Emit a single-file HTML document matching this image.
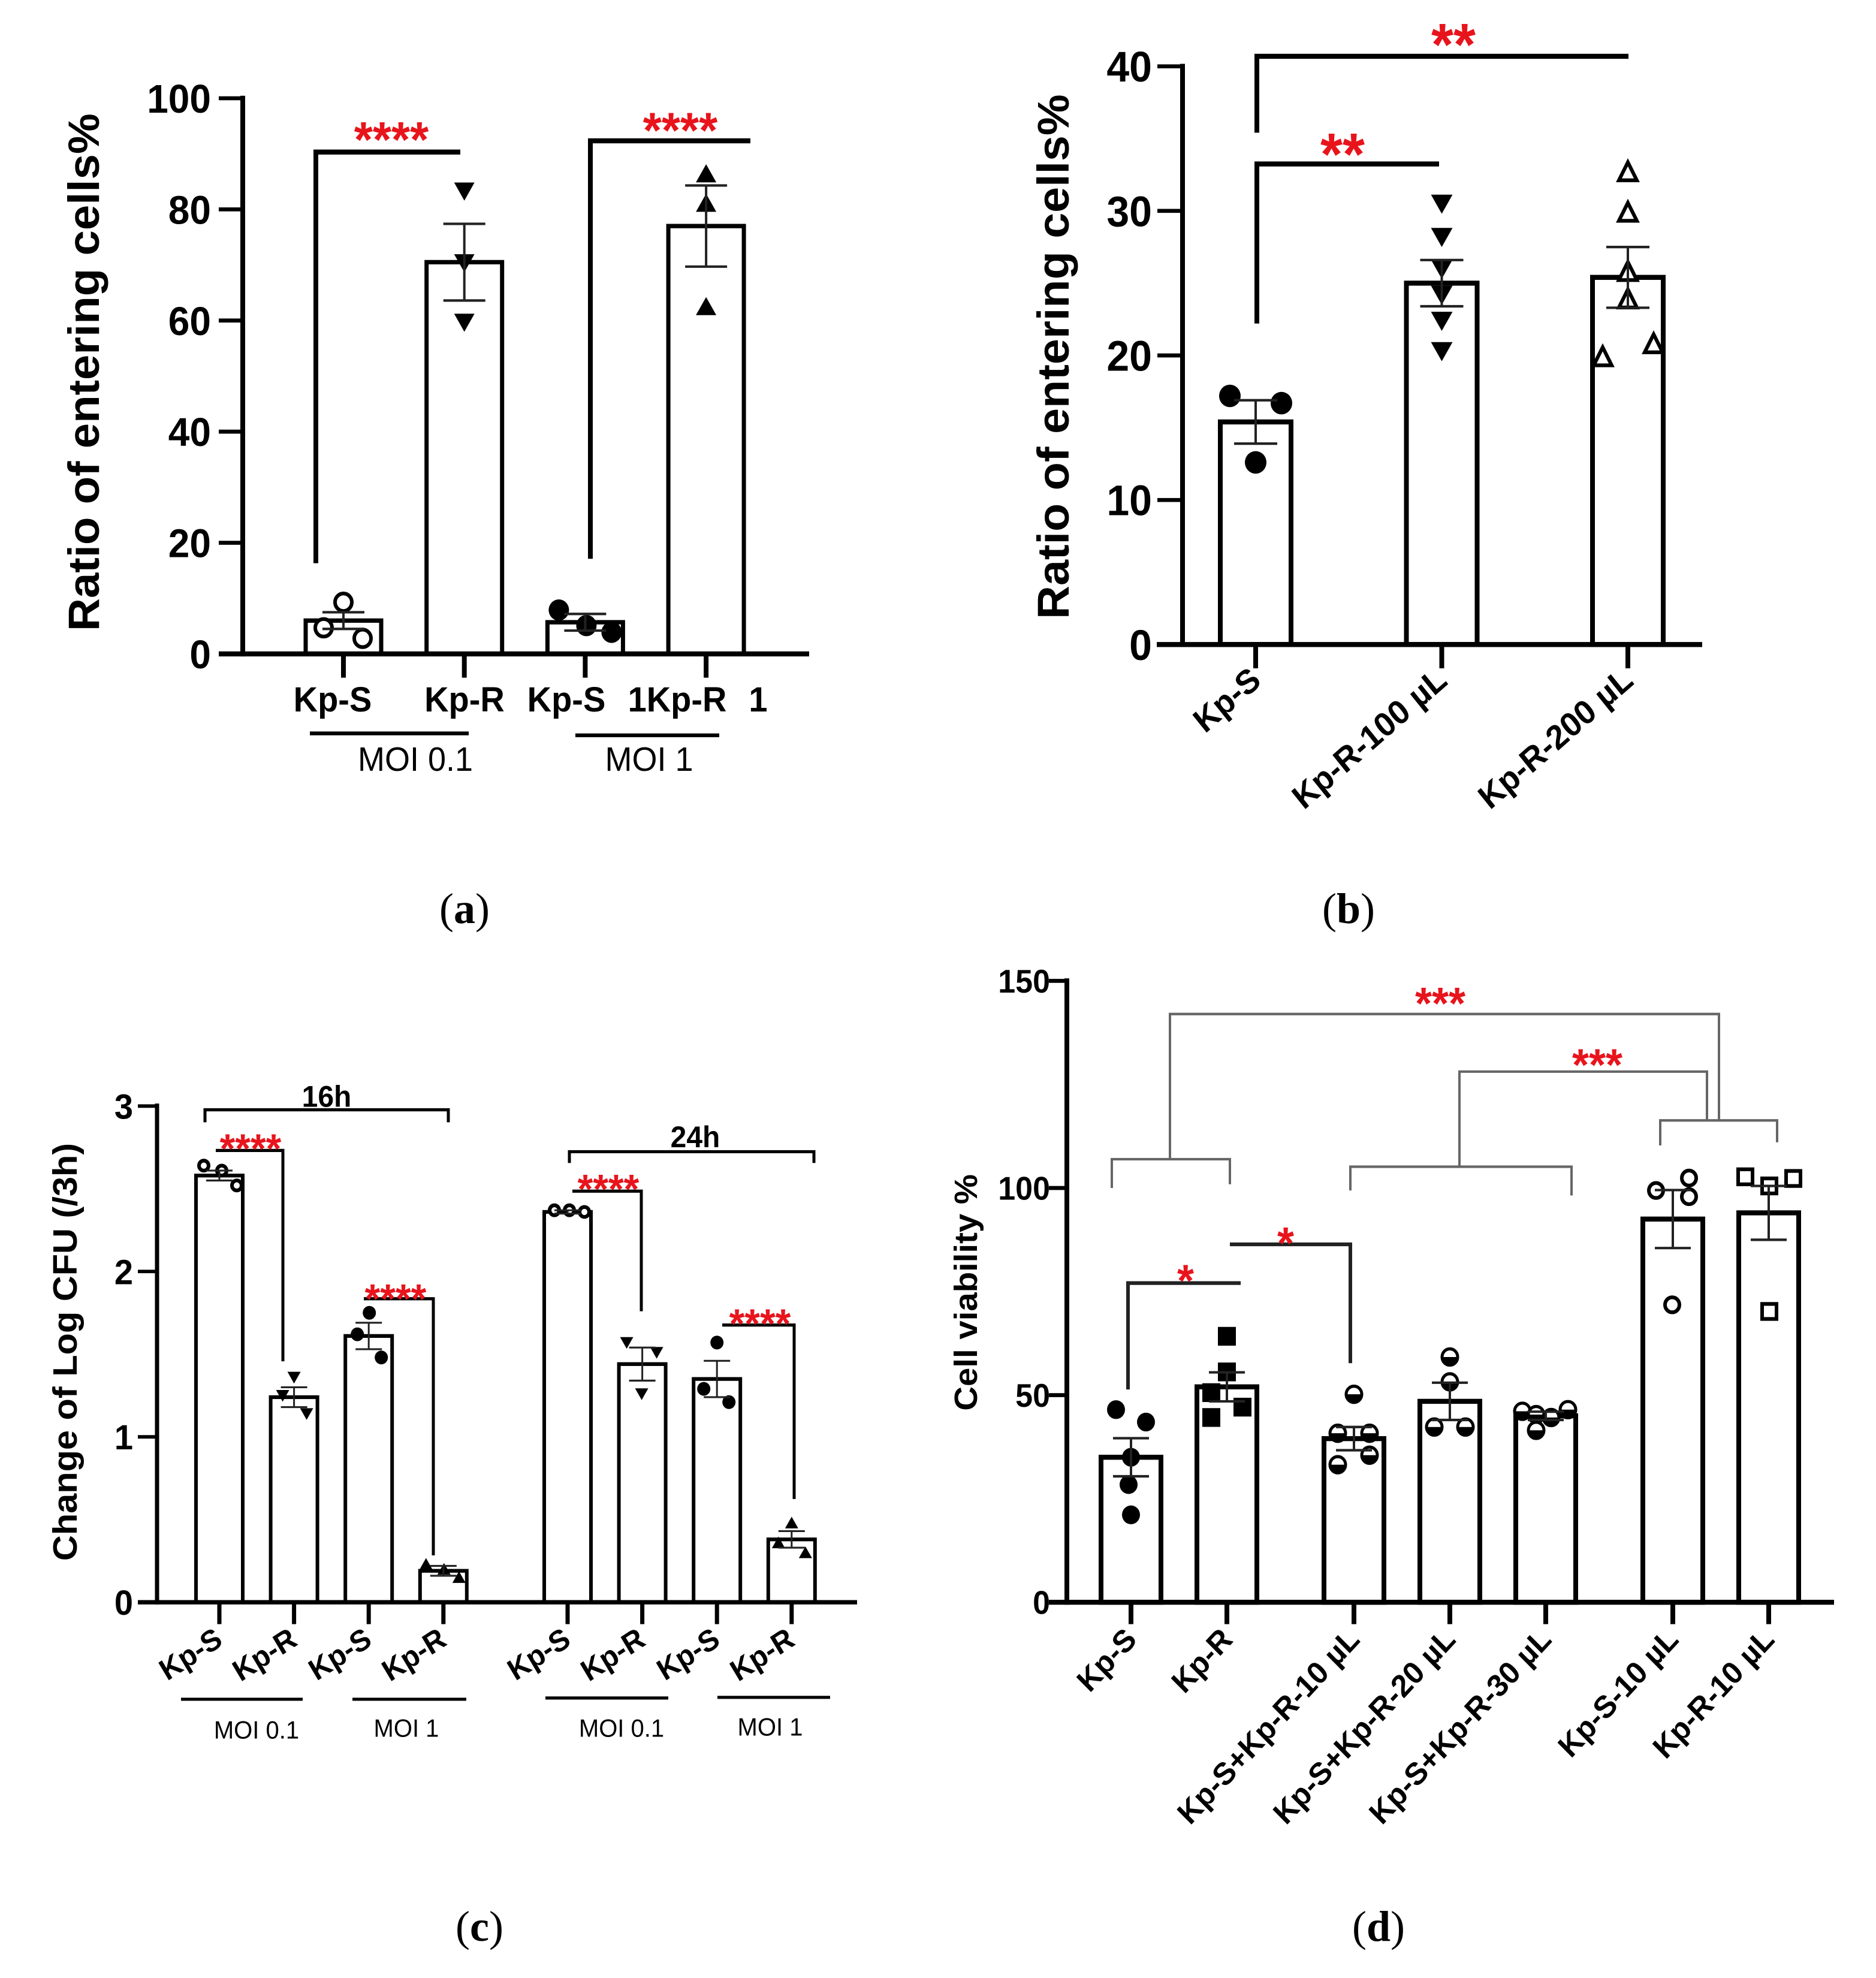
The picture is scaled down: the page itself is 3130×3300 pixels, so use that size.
<!DOCTYPE html>
<html><head><meta charset="utf-8">
<style>
html,body{margin:0;padding:0;background:#fff;}
svg{display:block;}
</style></head>
<body>
<svg id="fig" xmlns="http://www.w3.org/2000/svg" width="3130" height="3300" viewBox="0 0 3130 3300" font-family="Liberation Sans, Arial, sans-serif">
<rect x="0" y="0" width="3130" height="3300" fill="#fff"/>
</svg>
<script>
// ---------- Panel A data ----------
const A_categories=['Kp-S','Kp-R','Kp-S','Kp-R'];
const A_means=[6,70.5,5.7,77];
const A_errs=[1.5,6.9,1.5,7.3];
const A_points=[[9.3,4.7,2.8],[83.3,70.4,59.7],[7.9,5.1,3.9],[86.4,81.1,62.5]];
const A_ticks=[0,20,40,60,80,100];
// ---------- Panel B data ----------
const B_categories=['Kp-S','Kp-R-100 µL','Kp-R-200 µL'];
const B_means=[15.4,25,25.4];
const B_errs=[1.5,1.6,2.1];
const B_points=[[17.2,16.7,12.6],[30.5,28.2,26,24.2,22.4,20.3],[32.7,29.9,25.8,23.9,19.9,20.8]];
const B_ticks=[0,10,20,30,40];
// ---------- Panel C data ----------
const C_categories=['Kp-S','Kp-R','Kp-S','Kp-R','Kp-S','Kp-R','Kp-S','Kp-R'];
const C_means=[2.58,1.24,1.61,0.19,2.36,1.44,1.35,0.38];
const C_errs=[0.03,0.06,0.08,0.03,0.01,0.1,0.11,0.05];
const C_points=[[2.64,2.61,2.52],[1.36,1.25,1.14],[1.75,1.62,1.48],[0.23,0.2,0.15],[2.37,2.37,2.36],[1.57,1.51,1.26],[1.57,1.29,1.21],[0.48,0.36,0.30]];
const C_ticks=[0,1,2,3];
// ---------- Panel D data ----------
const D_categories=['Kp-S','Kp-R','Kp-S+Kp-R-10 µL','Kp-S+Kp-R-20 µL','Kp-S+Kp-R-30 µL','Kp-S-10 µL','Kp-R-10 µL'];
const D_means=[35,52,39.5,48.5,45,92.5,94];
const D_errs=[4.6,3.5,2.8,4.5,1,7,6.5];
const D_points=[[46.5,43.5,35,28.4,21.1],[64.2,55.6,50.6,44.6,47.1],[50.2,40.8,40.8,33.2,35.5],[59.2,53.2,42.3,42.3],[46.1,45.3,44.6,46.5,41.5],[99.4,102.4,97.9,71.8],[102.7,100.5,102.3,70.2]];
const D_ticks=[0,50,100,150];

const svg=document.getElementById('fig');
const NS='http://www.w3.org/2000/svg';
function el(tag,attrs,parent){const e=document.createElementNS(NS,tag);for(const k in attrs)e.setAttribute(k,attrs[k]);(parent||svg).appendChild(e);return e;}
function txt(s,attrs,parent){const e=el('text',attrs,parent);e.textContent=s;return e;}

function marker(g,type,x,y,r){
  let e;
  if(type==='circle'||type==='circle-open'){
    e=el('circle',{cx:x,cy:y,r:type==='circle'?r:r-3,fill:type==='circle'?'#000':'#fff',stroke:'#000','stroke-width':type==='circle'?0:6},g);
  }else if(type==='half'){
    e=el('g',{},g);
    el('circle',{cx:x,cy:y,r:r-2,fill:'#fff',stroke:'#000','stroke-width':5},e);
    el('path',{d:`M${x-r+2},${y} A${r-2},${r-2} 0 0 0 ${x+r-2},${y} Z`,fill:'#000'},e);
  }else if(type==='tri-down'){
    e=el('polygon',{points:`${x-r},${y-r*0.8} ${x+r},${y-r*0.8} ${x},${y+r*0.9}`,fill:'#000'},g);
  }else if(type==='tri-up'){
    e=el('polygon',{points:`${x-r},${y+r*0.8} ${x+r},${y+r*0.8} ${x},${y-r*0.9}`,fill:'#000'},g);
  }else if(type==='tri-up-open'){
    e=el('polygon',{points:`${x-r+3},${y+r*0.75} ${x+r-3},${y+r*0.75} ${x},${y-r*0.85}`,fill:'#fff',stroke:'#000','stroke-width':6,'stroke-linejoin':'miter'},g);
  }else if(type==='square'){
    e=el('rect',{x:x-r,y:y-r,width:2*r,height:2*r,fill:'#000'},g);
  }else if(type==='square-open'){
    e=el('rect',{x:x-r+3,y:y-r+3,width:2*r-6,height:2*r-6,fill:'#fff',stroke:'#000','stroke-width':6},g);
  }
  
  
}

function stars(s,cx,cy,size,parent){
  const t=txt(s,{x:cx,y:cy+size*0.57,'text-anchor':'middle','font-size':size,'font-weight':'bold',fill:'#e8141c'},parent);
  
  
}
function path(d,w,color,parent,name){
  const p=el('path',{d:d,fill:'none',stroke:color||'#000','stroke-width':w},parent);
  
  
  return p;
}

function drawPanel(c){
  const g=el('g',{transform:c.transform});
  
  
  const y=v=>c.y0-v*c.ppu;
  const x=i=>c.xs(i);
  c.means.forEach((m,i)=>{
    const b=el('rect',{x:x(i)-c.barW/2,y:y(m),width:c.barW,height:c.y0-y(m),fill:'#fff',stroke:'#000','stroke-width':c.barStroke},g);
    
    
  });
  c.points.forEach((arr,i)=>{
    arr.forEach((v,j)=>marker(g,c.markers[i],x(i)+c.jitter[i][j],y(v),c.r));
  });
  c.means.forEach((m,i)=>{
    const eg=el('g',{stroke:'#222','stroke-width':c.errW},g);
    
    
    const hi=y(m+c.errs[i]),lo=y(m-c.errs[i]);
    el('line',{x1:x(i),x2:x(i),y1:hi,y2:lo},eg);
    el('line',{x1:x(i)-c.capW/2,x2:x(i)+c.capW/2,y1:hi,y2:hi},eg);
    el('line',{x1:x(i)-c.capW/2,x2:x(i)+c.capW/2,y1:lo,y2:lo},eg);
  });
  const ya=el('line',{x1:c.axisX,x2:c.axisX,y1:y(c.ticks[c.ticks.length-1])-4,y2:c.y0+c.axisW/2,stroke:'#000','stroke-width':c.axisW},g);
  
  
  const xa=el('line',{x1:c.xMin,x2:c.xMax,y1:c.y0,y2:c.y0,stroke:'#000','stroke-width':c.axisW},g);
  
  
  c.ticks.forEach(t=>{
    el('line',{x1:c.axisX-c.tickLen,x2:c.axisX,y1:y(t),y2:y(t),stroke:'#000','stroke-width':c.axisW*0.8},g);
    const tl=txt(String(t),{x:c.tickLabelX,y:y(t)+c.tickFont*0.36,'text-anchor':'end','font-size':c.tickFont,'font-weight':'bold'},g);
    
    
  });
  c.cats.forEach((name,i)=>{
    el('line',{x1:x(i),x2:x(i),y1:c.y0,y2:c.y0+c.xTickLen,stroke:'#000','stroke-width':c.axisW},g);
    if(c.catLabels){
      const lx=x(i)+c.labelDx, ly=c.labelY;
      const t=txt(name,{x:lx,y:ly,'text-anchor':c.angle?'end':'middle','font-size':c.catFont,'font-weight':'bold',transform:c.angle?`rotate(${c.angle},${lx},${ly})`:''},g);
      
      
    }
  });
  const yl=txt(c.yTitle,{x:c.yTitleX,y:c.yTitleY,'text-anchor':'middle','font-size':c.yTitleFont,'font-weight':'bold',transform:`rotate(-90,${c.yTitleX},${c.yTitleY})`},g);
  
  
  return g;
}
const SY=1.044;
const TOP=`scale(1,${SY})`;
const BOT=`translate(0,1650) scale(1,${SY}) translate(0,-1650)`;

// Panel A
const gA=drawPanel({name:'panel-a',transform:TOP,cats:A_categories,means:A_means,errs:A_errs,points:A_points,ticks:A_ticks,
  y0:1045,ppu:8.88,axisX:405,xMin:365,xMax:1350,xs:i=>573+i*201.7,barW:126,barStroke:7,axisW:8,tickLen:40,xTickLen:38,
  tickLabelX:352,tickFont:64,errW:4,capW:70,r:17,
  markers:['circle-open','tri-down','circle','tri-up'],
  jitter:[[0,-33,32],[0,0,0],[-44,2,44],[0,0,0]],
  catLabels:false,yTitle:'Ratio of entering cells%',yTitleX:165,yTitleY:595,yTitleFont:73});
[['Kp-S',555],['Kp-R',775],['Kp-S',945],['1Kp-R',1130],['1',1265]].forEach(([s,xx])=>{
  const t=txt(s,{x:xx,y:1137,'text-anchor':'middle','font-size':56,'font-weight':'bold'},gA);
  
  
});
path('M517,1172 H782',6,'#000',gA,'group-line');
path('M960,1175 H1200',6,'#000',gA,'group-line');
[['MOI 0.1',693],['MOI 1',1083]].forEach(([s,xx])=>{const t=txt(s,{x:xx,y:1232,'text-anchor':'middle','font-size':54},gA);});
path('M527,900 V243 H768',8,'#000',gA);
path('M985,893 V225 H1252',8,'#000',gA);
stars('****',653,205,80,gA);
stars('****',1135,190,80,gA);

// Panel B
const gB=drawPanel({name:'panel-b',transform:TOP,cats:B_categories,means:B_means,errs:B_errs,points:B_points,ticks:B_ticks,
  y0:1030,ppu:23.1,axisX:1973,xMin:1930,xMax:2840,xs:i=>2095+i*310.5,barW:118,barStroke:8,axisW:8,tickLen:42,xTickLen:38,
  tickLabelX:1922,tickFont:68,errW:4,capW:72,r:18,
  markers:['circle','tri-down','tri-up-open'],
  jitter:[[-43,43,0],[0,0,0,0,0,0],[0,0,0,0,-42,43]],
  catLabels:true,labelDx:12,labelY:1092,angle:-40,catFont:54,
  yTitle:'Ratio of entering cells%',yTitleX:1783,yTitleY:570,yTitleFont:74});
path('M2097,212 V90 H2717',8,'#000',gB);
path('M2097,517 V262 H2401',8,'#000',gB);
stars('**',2425,50,95,gB);
stars('**',2240,225,95,gB);

// Panel C
const gC=drawPanel({name:'panel-c',transform:BOT,cats:C_categories,means:C_means,errs:C_errs,points:C_points,ticks:C_ticks,
  y0:2630,ppu:264.3,axisX:262,xMin:230,xMax:1430,xs:i=>366+i*124.6+(i>=4?82.6:0),barW:78,barStroke:6,axisW:7,tickLen:32,xTickLen:35,
  tickLabelX:222,tickFont:56,errW:3,capW:44,r:11,
  markers:['circle-open','tri-down','circle','tri-up','circle-open','tri-down','circle','tri-up'],
  jitter:[[-26,4,29],[0,-19,21],[1,-19,21],[-29,1,26],[-22,3,28],[-26,24,-1],[0,-22,20],[0,-22,23]],
  catLabels:true,labelDx:8,labelY:2697,angle:-32,catFont:48,
  yTitle:'Change of Log CFU (/3h)',yTitleX:128,yTitleY:2230,yTitleFont:57});
[[302,505,2785],[588,778,2785],[910,1115,2783],[1197,1385,2782]].forEach(([a,b,yy])=>path(`M${a},${yy} H${b}`,5,'#000',gC,'group-line'));
[['MOI 0.1',428,2848],['MOI 1',678,2845],['MOI 0.1',1037,2845],['MOI 1',1285,2843]].forEach(([s,xx,yy])=>{const t=txt(s,{x:xx,y:yy,'text-anchor':'middle','font-size':40},gC);});
path('M342,1863 V1843 H748 V1863',5,'#000',gC,'time-bracket');
path('M950,1928 V1910 H1358 V1928',5,'#000',gC,'time-bracket');
[['16h',545,1838],['24h',1160,1903]].forEach(([s,xx,yy])=>{const t=txt(s,{x:xx,y:yy,'text-anchor':'middle','font-size':48,'font-weight':'bold'},gC);});
path('M360,1908 H472 V2245',5,'#000',gC);
path('M607,2145 H723 V2555',5,'#000',gC);
path('M955,1973 H1070 V2165',5,'#000',gC);
path('M1205,2187 H1325 V2465',5,'#000',gC);
stars('****',418,1890,66,gC);
stars('****',660,2130,66,gC);
stars('****',1015,1955,66,gC);
stars('****',1268,2170,66,gC);

// Panel D
const D_groups=[0,0,1,1,1,2,2];
const gD=drawPanel({name:'panel-d',transform:BOT,cats:D_categories,means:D_means,errs:D_errs,points:D_points,ticks:D_ticks,
  y0:2630,ppu:6.62,axisX:1780,xMin:1750,xMax:3060,xs:i=>1887+i*160+D_groups[i]*52,barW:100,barStroke:8,axisW:8,tickLen:30,xTickLen:35,
  tickLabelX:1752,tickFont:52,errW:4,capW:60,r:15,
  markers:['circle','square','half','half','half','circle-open','square-open'],
  jitter:[[-25,25,0,-4,0],[0,0,-26,-26,26],[0,-27,26,-27,26],[0,0,-26,26],[-39,-16,9,37,-16],[-28,27,27,-1],[-39,1,41,1]],
  catLabels:true,labelDx:12,labelY:2692,angle:-46,catFont:50,
  yTitle:'Cell viability %',yTitleX:1630,yTitleY:2135,yTitleFont:54});
path('M1855,1968 V1922 H2052 V1962',4,'#666',gD);
path('M1952,1922 V1690 H2868 V1860',4,'#666',gD);
path('M2253,1972 V1934 H2622 V1980',4,'#666',gD);
path('M2435,1934 V1782 H2848 V1860',4,'#666',gD);
path('M2770,1900 V1860 H2965 V1895',4,'#666',gD);
path('M1882,2290 V2120 H2070',6,'#222',gD);
path('M2052,2058 H2253 V2248',6,'#222',gD);
stars('***',2403,1657,72,gD);
stars('***',2665,1755,72,gD);
stars('*',1978,2100,72,gD);
stars('*',2145,2040,72,gD);

// Panel letters
[['a',775,1540],['b',2250,1540],['c',800,3238],['d',2300,3238]].forEach(([l,xx,yy])=>{
  const t=el('text',{x:xx,y:yy,'text-anchor':'middle','font-size':72,'font-family':'Liberation Serif, serif'});
  
  
  const s1=document.createElementNS(NS,'tspan');s1.textContent='(';t.appendChild(s1);
  const s2=document.createElementNS(NS,'tspan');s2.setAttribute('font-weight','bold');s2.textContent=l;t.appendChild(s2);
  const s3=document.createElementNS(NS,'tspan');s3.textContent=')';t.appendChild(s3);
});
</script>
</body></html>
